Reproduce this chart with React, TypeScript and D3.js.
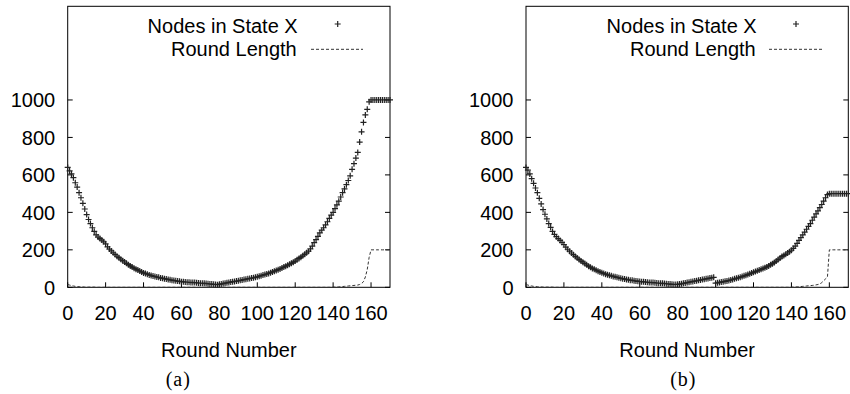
import React from "react";
import * as d3 from "d3";

// Round index = position in each array (0..170)
const xTickValues = [0, 20, 40, 60, 80, 100, 120, 140, 160];
const yTickValues = [0, 200, 400, 600, 800, 1000];
const seriesNames = ["Nodes in State X", "Round Length"];
const axisTitle = "Round Number";

const nodesA = [
  640, 622, 605, 585, 558, 535, 505, 478, 448, 418,
  388, 362, 340, 318, 298, 280, 268, 260, 252, 243,
  232, 216, 204, 194, 184, 175, 166, 158, 150, 142,
  135, 128, 121, 114, 108, 102, 97, 92, 87, 82,
  77, 73, 70, 66, 63, 60, 58, 55, 53, 50,
  48, 46, 44, 42, 40, 38, 36, 35, 33, 32,
  30, 29, 28, 27, 27, 26, 25, 25, 24, 23,
  22, 22, 21, 20, 19, 18, 17, 16, 15, 14,
  16, 18, 20, 22, 24, 26, 28, 30, 31, 33,
  35, 37, 39, 41, 43, 45, 47, 49, 51, 53,
  56, 59, 62, 65, 68, 71, 74, 78, 82, 86,
  90, 94, 98, 103, 108, 113, 118, 123, 128, 134,
  140, 147, 154, 161, 168, 176, 184, 193, 205, 220,
  238, 255, 272, 290, 305, 318, 333, 350, 368, 385,
  400, 420, 440, 460, 482, 505, 525, 548, 570, 595,
  630, 660, 690, 720, 775, 830, 880, 920, 950, 990,
  1000, 1000, 1000, 1000, 1000, 1000, 1000, 1000, 1000, 1000, 1000,
];

const lengthA = [
  15, 12, 9, 7, 5, 4, 3, 2, 2, 1,
  1, 1, 1, 1, 1, 0, 0, 0, 0, 0,
  0, 0, 0, 0, 0, 0, 0, 0, 0, 0,
  0, 0, 0, 0, 0, 0, 0, 0, 0, 0,
  0, 0, 0, 0, 0, 0, 0, 0, 0, 0,
  0, 0, 0, 0, 0, 0, 0, 0, 0, 0,
  0, 0, 0, 0, 0, 0, 0, 0, 0, 0,
  0, 0, 0, 0, 0, 0, 0, 0, 0, 0,
  0, 0, 0, 0, 0, 0, 0, 0, 0, 0,
  0, 0, 0, 0, 0, 0, 0, 0, 0, 0,
  0, 0, 0, 0, 0, 0, 0, 0, 0, 0,
  0, 0, 0, 0, 0, 0, 0, 0, 0, 0,
  0, 0, 0, 0, 0, 0, 0, 0, 0, 0,
  0, 0, 0, 0, 0, 0, 0, 0, 0, 0,
  1, 1, 2, 2, 3, 4, 5, 6, 7, 8,
  9, 10, 11, 12, 15, 20, 30, 55, 95, 160,
  200, 200, 200, 200, 200, 200, 200, 200, 200, 200, 200,
];

const nodesB = [
  640, 625, 605, 580, 555, 530, 505, 475, 445, 415,
  390, 365, 340, 320, 298, 282, 270, 260, 250, 240,
  228, 214, 203, 193, 183, 174, 165, 157, 149, 141,
  134, 127, 120, 113, 107, 101, 96, 91, 86, 82,
  78, 74, 70, 67, 64, 61, 58, 56, 53, 51,
  48, 46, 44, 42, 40, 38, 37, 35, 34, 32,
  31, 30, 29, 28, 27, 26, 25, 25, 24, 23,
  22, 22, 21, 20, 19, 18, 17, 16, 15, 15,
  16, 17, 19, 21, 23, 25, 27, 29, 31, 33,
  35, 37, 39, 41, 43, 45, 47, 49, 51, 53,
  22, 24, 26, 28, 30, 32, 34, 36, 39, 42,
  45, 48, 51, 54, 57, 61, 64, 68, 72, 76,
  80, 84, 88, 92, 96, 100, 104, 109, 114, 120,
  126, 133, 140, 148, 156, 164, 170, 176, 183, 190,
  198, 208, 220, 235, 250, 265, 280, 295, 310, 325,
  340, 358, 375, 392, 408, 425, 442, 460, 478, 495,
  500, 500, 500, 500, 500, 500, 500, 500, 500, 500, 500,
];

const lengthB = [
  15, 12, 9, 7, 5, 4, 3, 2, 2, 1,
  1, 1, 1, 1, 1, 0, 0, 0, 0, 0,
  0, 0, 0, 0, 0, 0, 0, 0, 0, 0,
  0, 0, 0, 0, 0, 0, 0, 0, 0, 0,
  0, 0, 0, 0, 0, 0, 0, 0, 0, 0,
  0, 0, 0, 0, 0, 0, 0, 0, 0, 0,
  0, 0, 0, 0, 0, 0, 0, 0, 0, 0,
  0, 0, 0, 0, 0, 0, 0, 0, 0, 0,
  0, 0, 0, 0, 0, 0, 0, 0, 0, 0,
  0, 0, 0, 0, 0, 0, 0, 0, 0, 0,
  0, 0, 0, 0, 0, 0, 0, 0, 0, 0,
  0, 0, 0, 0, 0, 0, 0, 0, 0, 0,
  0, 0, 0, 0, 0, 0, 0, 0, 0, 0,
  0, 0, 0, 0, 0, 0, 0, 0, 0, 0,
  1, 1, 2, 2, 3, 4, 5, 6, 7, 8,
  9, 10, 11, 13, 15, 18, 25, 35, 45, 55,
  200, 200, 200, 200, 200, 200, 200, 200, 200, 200, 200,
];

const FONT = "'Liberation Sans', Arial, Helvetica, sans-serif";
const SERIF = "'Liberation Serif', 'Times New Roman', serif";

type PanelProps = {
  left: number;
  right: number;
  nodes: number[];
  lengths: number[];
  caption: string;
  captionX: number;
  legendTextRight: number;
  legendMarkX: number;
  legendLineX1: number;
  legendLineX2: number;
};

function Panel(p: PanelProps) {
  const top = 6.3;
  const bottom = 287.3;
  const x = d3.scaleLinear().domain([0, 170]).range([p.left, p.right]);
  const y = d3.scaleLinear().domain([0, 1500]).range([bottom, top]);
  const line = d3
    .line<number>()
    .x((_, i) => x(i))
    .y((d) => y(d));
  const tl = 5;
  const plus = (cx: number, cy: number, s = 3) =>
    `M${cx - s},${cy}h${2 * s}M${cx},${cy - s}v${2 * s}`;
  const markerPath = p.nodes.map((v, i) => plus(x(i), y(v))).join("");
  return (
    <g>
      <rect
        x={p.left}
        y={top}
        width={p.right - p.left}
        height={bottom - top}
        fill="none"
        stroke="#000"
        strokeWidth={1}
      />
      {yTickValues.map((t) => (
        <g key={"y" + t}>
          <line x1={p.left} x2={p.left + tl} y1={y(t)} y2={y(t)} stroke="#000" />
          <line x1={p.right} x2={p.right - tl} y1={y(t)} y2={y(t)} stroke="#000" />
          <text
            x={p.left - 12.5}
            y={y(t) + 7.2}
            textAnchor="end"
            fontFamily={FONT}
            fontSize={20}
            fill="#000"
          >
            {t}
          </text>
        </g>
      ))}
      {xTickValues.map((t) => (
        <g key={"x" + t}>
          <line x1={x(t)} x2={x(t)} y1={bottom} y2={bottom - tl} stroke="#000" />
          <text
            x={x(t)}
            y={320}
            textAnchor="middle"
            fontFamily={FONT}
            fontSize={20}
            fill="#000"
          >
            {t}
          </text>
        </g>
      ))}
      <text
        x={(p.left + p.right) / 2}
        y={357}
        textAnchor="middle"
        fontFamily={FONT}
        fontSize={20}
        fill="#000"
      >
        {axisTitle}
      </text>
      <text
        x={p.captionX}
        y={386}
        textAnchor="middle"
        fontFamily={SERIF}
        fontSize={20}
        letterSpacing={1}
        fill="#000"
      >
        {p.caption}
      </text>
      <path
        d={line(p.lengths) || ""}
        fill="none"
        stroke="#333"
        strokeWidth={1}
        strokeDasharray="3,2"
      />
      <path d={markerPath} fill="none" stroke="#222" strokeWidth={1.2} />
      <text
        x={p.legendTextRight}
        y={32.5}
        textAnchor="end"
        fontFamily={FONT}
        fontSize={20}
        fill="#000"
      >
        {seriesNames[0]}
      </text>
      <path d={plus(p.legendMarkX, 24)} stroke="#222" strokeWidth={1.2} />
      <text
        x={p.legendTextRight - 1}
        y={56}
        textAnchor="end"
        fontFamily={FONT}
        fontSize={20}
        fill="#000"
      >
        {seriesNames[1]}
      </text>
      <line
        x1={p.legendLineX1}
        x2={p.legendLineX2}
        y1={49.3}
        y2={49.3}
        stroke="#333"
        strokeWidth={1}
        strokeDasharray="3,2"
      />
    </g>
  );
}

export default function App() {
  return (
    <svg
      width={850}
      height={394}
      style={{ position: "absolute", left: 0, top: 0, background: "#fff" }}
    >
      <rect width={850} height={394} fill="#fff" />
      <Panel
        left={67.7}
        right={390}
        nodes={nodesA}
        lengths={lengthA}
        caption="(a)"
        captionX={178.3}
        legendTextRight={297.7}
        legendMarkX={337.7}
        legendLineX1={311}
        legendLineX2={363}
      />
      <Panel
        left={526}
        right={848.3}
        nodes={nodesB}
        lengths={lengthB}
        caption="(b)"
        captionX={683.3}
        legendTextRight={756.7}
        legendMarkX={796}
        legendLineX1={769}
        legendLineX2={823}
      />
    </svg>
  );
}
